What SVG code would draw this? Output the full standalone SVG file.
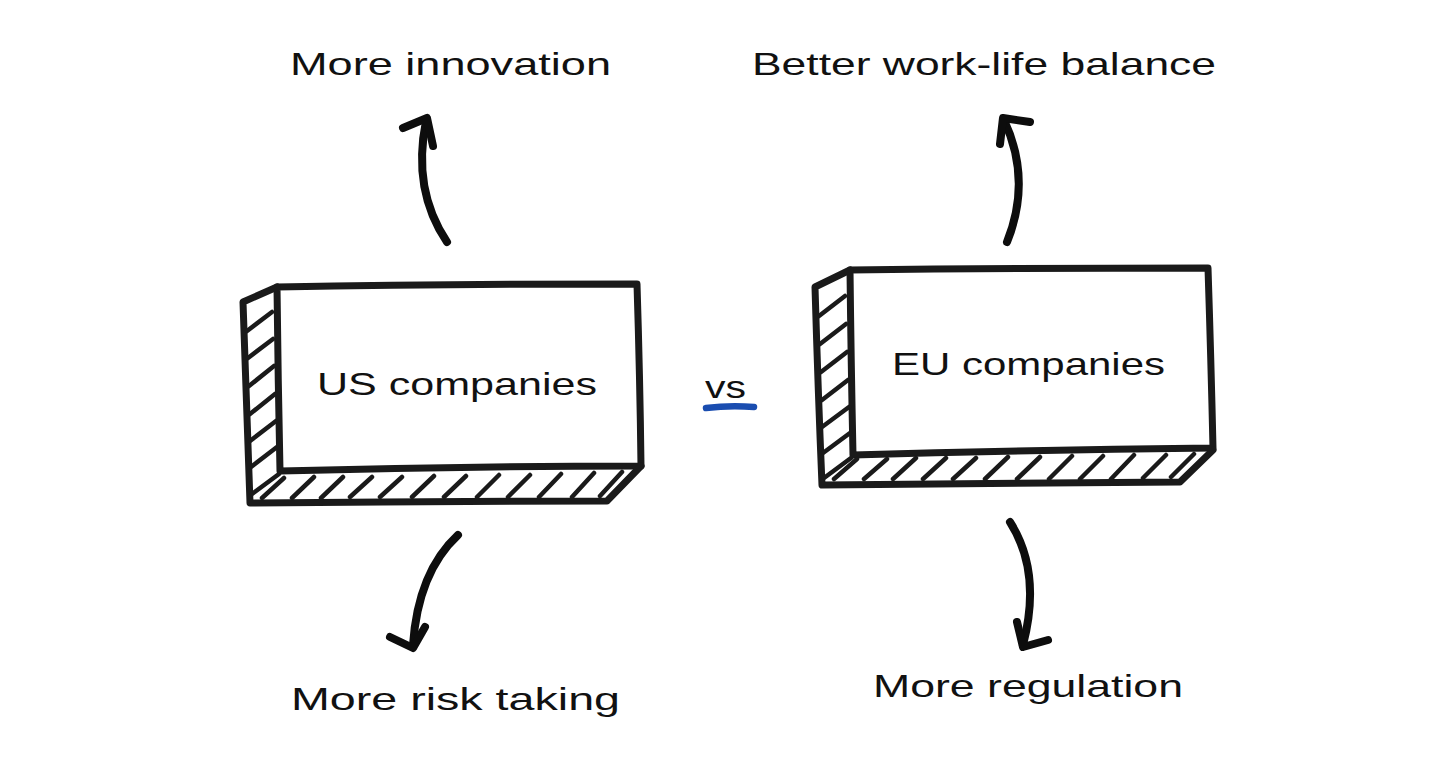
<svg xmlns="http://www.w3.org/2000/svg" width="1456" height="765" viewBox="0 0 1456 765">
<style>
.edge{fill:none;stroke:#1a1a1a;stroke-width:7;stroke-linecap:round;stroke-linejoin:round}
.hatch{fill:none;stroke:#1a1a1a;stroke-width:4.5;stroke-linecap:round}
.arrow{fill:none;stroke:#0d0d0d;stroke-width:8;stroke-linecap:round;stroke-linejoin:round}
.lbl{font-family:"Liberation Sans","DejaVu Sans",sans-serif;font-size:32px;fill:#111}
</style>
<rect width="1456" height="765" fill="#ffffff"/>
<g id="us-box">
<path class="edge" d="M277,287 Q450,284 637,284 Q640,380 641,466 Q460,466 280,471 Q278,380 277,287 Z" fill="#fff"/>
<path class="edge" d="M277,287 L243,302 Q246,400 250,503 Q430,501 607,501 L641,466"/>
<path class="hatch" d="M247,331 L272,312 M248,358 L273,339 M249,386 L274,366 M250,414 L275,394 M250,441 L276,421 M251,467 L277,447 M252,494 L279,474 M262,498 L284,478 M292,498 L314,477 M321,498 L343,477 M350,497 L372,477 M380,497 L402,477 M412,497 L434,476 M444,497 L466,476 M477,497 L499,475 M508,497 L530,475 M539,497 L561,474 M572,497 L594,473 M600,496 L622,472"/>
<text class="lbl" x="317" y="395" textLength="280" lengthAdjust="spacingAndGlyphs">US companies</text>
</g>
<g id="eu-box">
<path class="edge" d="M850,270 Q1030,268 1208,268 Q1211,360 1213,448 Q1030,450 853,455 Q851,360 850,270 Z" fill="#fff"/>
<path class="edge" d="M850,270 L815,287 Q818,390 822,485 Q1000,483 1180,482 L1213,450"/>
<path class="hatch" d="M819,316 L845,296 M820,344 L846,324 M821,372 L847,352 M822,400 L848,380 M822,427 L849,407 M823,453 L850,433 M824,478 L851,458 M834,479 L857,459 M864,479 L887,459 M893,479 L916,458 M923,479 L946,458 M953,479 L976,458 M985,479 L1008,457 M1017,479 L1040,457 M1049,479 L1072,456 M1080,479 L1103,456 M1111,479 L1134,455 M1143,478 L1166,455 M1171,477 L1194,454"/>
<text class="lbl" x="892" y="375" textLength="273" lengthAdjust="spacingAndGlyphs">EU companies</text>
</g>
<g id="vs">
<text class="lbl" x="705" y="398" textLength="41" lengthAdjust="spacingAndGlyphs">vs</text>
<path d="M706,408 Q730,405 754,407" fill="none" stroke="#1a4db0" stroke-width="6.5" stroke-linecap="round"/>
</g>
<g id="label-innovation"><text class="lbl" x="290" y="75" textLength="321" lengthAdjust="spacingAndGlyphs">More innovation</text></g>
<g id="label-balance"><text class="lbl" x="752" y="75" textLength="464" lengthAdjust="spacingAndGlyphs">Better work-life balance</text></g>
<g id="label-risk"><text class="lbl" x="291" y="710" textLength="329" lengthAdjust="spacingAndGlyphs">More risk taking</text></g>
<g id="label-regulation"><text class="lbl" x="873" y="697" textLength="310" lengthAdjust="spacingAndGlyphs">More regulation</text></g>
<g id="connectors">
<path class="arrow" d="M447,242 Q412,190 426,121"/>
<path class="arrow" d="M403,128 L427,118 L433,146"/>
<path class="arrow" d="M1007,242 Q1032,180 1004,120"/>
<path class="arrow" d="M1030,122 L1003,118 L1000,144"/>
<path class="arrow" d="M458,535 Q418,572 413,645"/>
<path class="arrow" d="M390,637 L413,648 L425,627"/>
<path class="arrow" d="M1010,522 Q1042,572 1023,645"/>
<path class="arrow" d="M1017,622 L1023,647 L1048,640"/>
</g>
</svg>
